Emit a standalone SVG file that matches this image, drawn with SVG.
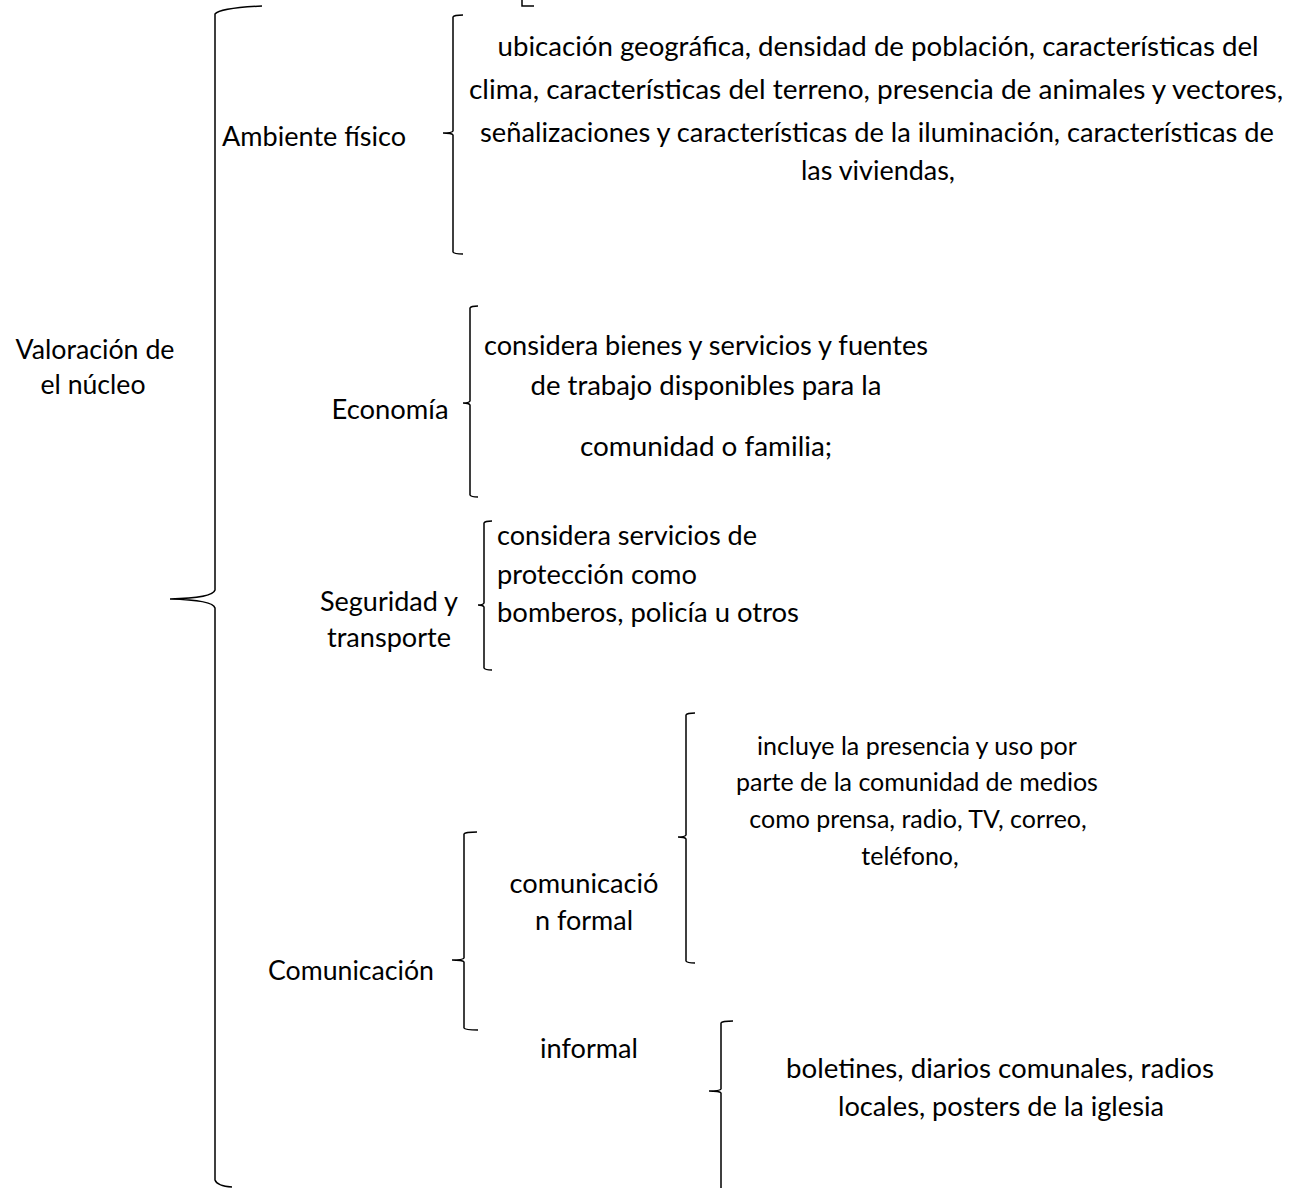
<svg xmlns="http://www.w3.org/2000/svg" width="1295" height="1188" viewBox="0 0 1295 1188">
<style>
text{font-family:Lato,"Liberation Sans",sans-serif;font-size:26px;fill:#000}
.m{text-anchor:middle}
.s{font-size:25px}
.b{fill:none;stroke:#000;stroke-width:1.5}
</style>
<rect width="1295" height="1188" fill="#fff"/>
<g id="connectors">
<path class="b" d="M262,6 Q220,8 215,14 L215,590 Q213,598 170,599 Q213,600 215,608 L215,1180 Q217,1186 232,1187"/>
<path class="b" d="M522,0 L522,6 L534,6"/>
<path class="b" d="M463,15 Q454,15 453,17 L453,131 Q452,133 443,133 Q452,133 453,135 L453,252 Q454,254 463,254"/>
<path class="b" d="M478,306 Q471,306 470,308 L470,401 Q469,403 463,403 Q469,403 470,405 L470,495 Q471,497 478,497"/>
<path class="b" d="M492,521 Q485,521 484,523 L484,603 Q483,605 478,605 Q483,605 484,607 L484,668 Q485,670 492,670"/>
<path class="b" d="M477,832 Q465,832 464,834 L464,958 Q463,960 452,960 Q463,960 464,962 L464,1028 Q465,1030 478,1030"/>
<path class="b" d="M695,713 Q687,713 686,715 L686,835 Q685,837 678,837 Q685,837 686,839 L686,961 Q687,963 695,963"/>
<path class="b" d="M733,1021 Q722,1021 721,1023 L721,1089 Q720,1091 709,1091 Q720,1091 721,1093 L721,1188"/>
</g>
<g id="root">
<text class="m" x="95" y="359" textLength="159" lengthAdjust="spacingAndGlyphs">Valoración de</text>
<text class="m" x="93" y="394" textLength="105" lengthAdjust="spacingAndGlyphs">el núcleo</text>
</g>
<g id="ambiente">
<text class="m" x="314" y="146" textLength="184" lengthAdjust="spacingAndGlyphs">Ambiente físico</text>
</g>
<g id="ambiente-detalle">
<text class="m" x="878" y="56" textLength="761" lengthAdjust="spacingAndGlyphs">ubicación geográfica, densidad de población, características del</text>
<text class="m" x="876" y="99" textLength="814" lengthAdjust="spacingAndGlyphs">clima, características del terreno, presencia de animales y vectores,</text>
<text class="m" x="877" y="142" textLength="794" lengthAdjust="spacingAndGlyphs">señalizaciones y características de la iluminación, características de</text>
<text class="m" x="878" y="180" textLength="154" lengthAdjust="spacingAndGlyphs">las viviendas,</text>
</g>
<g id="economia">
<text class="m" x="390" y="419" textLength="117" lengthAdjust="spacingAndGlyphs">Economía</text>
</g>
<g id="economia-detalle">
<text class="m" x="706" y="355" textLength="444" lengthAdjust="spacingAndGlyphs">considera bienes y servicios y fuentes</text>
<text class="m" x="706" y="395" textLength="351" lengthAdjust="spacingAndGlyphs">de trabajo disponibles para la</text>
<text class="m" x="706" y="456" textLength="252" lengthAdjust="spacingAndGlyphs">comunidad o familia;</text>
</g>
<g id="seguridad">
<text class="m" x="389" y="611" textLength="138" lengthAdjust="spacingAndGlyphs">Seguridad y</text>
<text class="m" x="389" y="647" textLength="124" lengthAdjust="spacingAndGlyphs">transporte</text>
</g>
<g id="seguridad-detalle">
<text x="497" y="545" textLength="260" lengthAdjust="spacingAndGlyphs">considera servicios de</text>
<text x="497" y="584" textLength="200" lengthAdjust="spacingAndGlyphs">protección como</text>
<text x="497" y="622" textLength="302" lengthAdjust="spacingAndGlyphs">bomberos, policía u otros</text>
</g>
<g id="comunicacion">
<text class="m" x="351" y="980" textLength="166" lengthAdjust="spacingAndGlyphs">Comunicación</text>
</g>
<g id="formal">
<text class="m" x="584" y="893" textLength="149" lengthAdjust="spacingAndGlyphs">comunicació</text>
<text class="m" x="584" y="930" textLength="98" lengthAdjust="spacingAndGlyphs">n formal</text>
</g>
<g id="formal-detalle">
<text class="m s" x="917" y="755">incluye la presencia y uso por</text>
<text class="m s" x="917" y="791">parte de la comunidad de medios</text>
<text class="m s" x="918" y="828">como prensa, radio, TV, correo,</text>
<text class="m s" x="910" y="865">teléfono,</text>
</g>
<g id="informal">
<text class="m" x="589" y="1058" textLength="98" lengthAdjust="spacingAndGlyphs">informal</text>
</g>
<g id="informal-detalle">
<text class="m" x="1000" y="1078" textLength="428" lengthAdjust="spacingAndGlyphs">boletines, diarios comunales, radios</text>
<text class="m" x="1001" y="1116" textLength="326" lengthAdjust="spacingAndGlyphs">locales, posters de la iglesia</text>
</g>
</svg>
